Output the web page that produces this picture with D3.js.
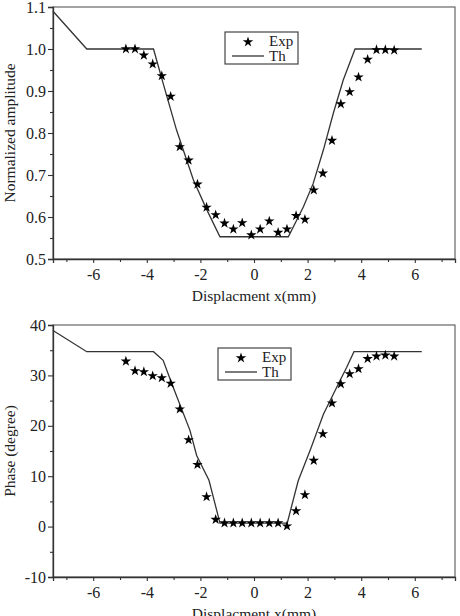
<!DOCTYPE html>
<html>
<head><meta charset="utf-8"><title>Amplitude and phase</title></head>
<script src="https://d3js.org/d3.v7.min.js"></script>
<style>
body { margin: 0; background: #fff; }
text { font-family: "Liberation Serif", "Times New Roman", serif; fill: #222; }
</style>
<body>
<svg width="460" height="616"></svg>
<script>

// measured positions (mm) of the experimental points
var xExp = [-4.78,-4.44,-4.11,-3.78,-3.44,-3.11,-2.77,-2.44,-2.11,-1.77,-1.43,-1.10,-0.77,-0.44,-0.10,0.23,0.57,0.90,1.23,1.57,1.90,2.23,2.57,2.91,3.24,3.57,3.90,4.24,4.57,4.90,5.23];

var ampExp = [1.000,1.000,0.985,0.964,0.936,0.887,0.767,0.735,0.678,0.623,0.605,0.585,0.571,0.586,0.557,0.571,0.590,0.563,0.571,0.603,0.594,0.664,0.704,0.782,0.869,0.898,0.933,0.975,0.998,0.998,0.997];

var phaseExp = [32.8,30.9,30.7,29.9,29.5,28.4,23.3,17.2,12.3,5.9,1.4,0.7,0.7,0.7,0.7,0.7,0.7,0.7,0.1,3.1,6.3,13.1,18.4,24.5,28.3,30.3,31.3,33.3,33.8,34.0,33.8];

// theory curves
var ampThX = [-7.5,-6.24,-3.75,-3.39,-2.89,-2.26,-1.76,-1.27,1.28,1.84,2.21,2.59,2.96,3.33,3.77,6.26];
var ampThY = [1.09,1.0,1.0,0.918,0.807,0.688,0.617,0.553,0.553,0.624,0.680,0.760,0.847,0.926,1.0,1.0];

var phaseThX = [-7.5,-6.24,-3.75,-3.39,-3.07,-2.39,-2.14,-1.68,-1.27,1.24,1.65,2.12,2.59,3.21,3.46,3.73,6.26];
var phaseThY = [38.9,34.7,34.7,33.0,28.4,19.1,14.1,9.2,0.7,0.7,9.1,15.5,22.3,29.0,31.6,34.7,34.7];

var xTicks = [-6,-4,-2,0,2,4,6];
var xMinor = [-7,-5,-3,-1,1,3,5,7];
var ampTicks = [0.5,0.6,0.7,0.8,0.9,1.0,1.1];
var ampMinor = [0.55,0.65,0.75,0.85,0.95,1.05];
var phaseTicks = [-10,0,10,20,30,40];
var phaseMinor = [-5,5,15,25,35];

var svg = d3.select('svg');
var left = 53, right = 455;

// plain hyphen like the original, not the unicode minus
var fmtInt = function(d) { return String(d); };
var fmt1 = function(d) { return d.toFixed(1); };

function panel(top, bottom, yDomain, yTicks, yMinor, yFmt, yLabel, ex, thX, thY, legend) {
	var x = d3.scaleLinear().domain([-7.5, 7.5]).range([left, right]);
	var y = d3.scaleLinear().domain(yDomain).range([bottom, top]);
	var g = svg.append('g');

	// frame
	g.append('rect').attr('x', left).attr('y', top)
		.attr('width', right - left).attr('height', bottom - top)
		.attr('fill', 'none').attr('stroke', '#666').attr('stroke-width', 1.2);

	// minor ticks first
	g.append('g').attr('transform', 'translate(0,' + bottom + ')')
		.call(d3.axisBottom(x).tickValues(xMinor).tickSize(3).tickFormat(''))
		.call(function(a) { a.select('.domain').remove(); });
	g.append('g').attr('transform', 'translate(' + left + ',0)')
		.call(d3.axisLeft(y).tickValues(yMinor).tickSize(3).tickFormat(''))
		.call(function(a) { a.select('.domain').remove(); });

	var xa = g.append('g').attr('transform', 'translate(0,' + bottom + ')')
		.call(d3.axisBottom(x).tickValues(xTicks).tickSize(4).tickPadding(6).tickFormat(fmtInt));
	var ya = g.append('g').attr('transform', 'translate(' + left + ',0)')
		.call(d3.axisLeft(y).tickValues(yTicks).tickSize(5).tickPadding(2).tickFormat(yFmt));
	[xa, ya].forEach(function(a) {
		a.select('.domain').attr('stroke', '#333').attr('stroke-width', 1.3);
		a.selectAll('text').style('font-size', '16px').attr('fill', '#222');
	});
	g.selectAll('.tick line').attr('stroke', '#333').attr('stroke-width', 1.1);

	g.append('text')
		.attr('x', (left + right) / 2).attr('y', bottom + 42)
		.attr('text-anchor', 'middle').style('font-size', '15.5px')
		.text('Displacment x(mm)');
	g.append('text')
		.attr('transform', 'translate(15,' + ((top + bottom) / 2) + ') rotate(-90)')
		.attr('text-anchor', 'middle').style('font-size', '15.5px')
		.text(yLabel);

	var line = d3.line()
		.x(function(d, i) { return x(thX[i]); })
		.y(function(d) { return y(d); });
	g.append('path').attr('d', line(thY))
		.attr('fill', 'none').attr('stroke', '#333').attr('stroke-width', 1.3);

	var star = d3.symbol().type(d3.symbolStar).size(34);
	g.selectAll('.star')
		.data(ex)
	  .enter().append('path')
		.attr('class', 'star')
		.attr('d', star)
		.attr('transform', function(d, i) { return 'translate(' + x(xExp[i]) + ',' + y(d) + ')'; })
		.attr('fill', '#000');

	// legend
	var lg = g.append('g').attr('transform', 'translate(' + legend[0] + ',' + legend[1] + ')');
	lg.append('rect').attr('width', 73).attr('height', 32)
		.attr('fill', '#fff').attr('stroke', '#444').attr('stroke-width', 1.2);
	lg.append('path').attr('d', star).attr('transform', 'translate(23,10)').attr('fill', '#000');
	lg.append('line').attr('x1', 7).attr('x2', 39).attr('y1', 24).attr('y2', 24)
		.attr('stroke', '#333').attr('stroke-width', 1.3);
	lg.append('text').attr('x', 44).attr('y', 14).style('font-size', '15px').text('Exp');
	lg.append('text').attr('x', 44).attr('y', 29).style('font-size', '15px').text('Th');
}

panel(7, 259, [0.5, 1.1], ampTicks, ampMinor, fmt1, 'Normalized amplitude', ampExp, ampThX, ampThY, [225, 32]);
panel(325, 577, [-10, 40], phaseTicks, phaseMinor, fmtInt, 'Phase (degree)', phaseExp, phaseThX, phaseThY, [218, 348]);

</script>
</body>
</html>
